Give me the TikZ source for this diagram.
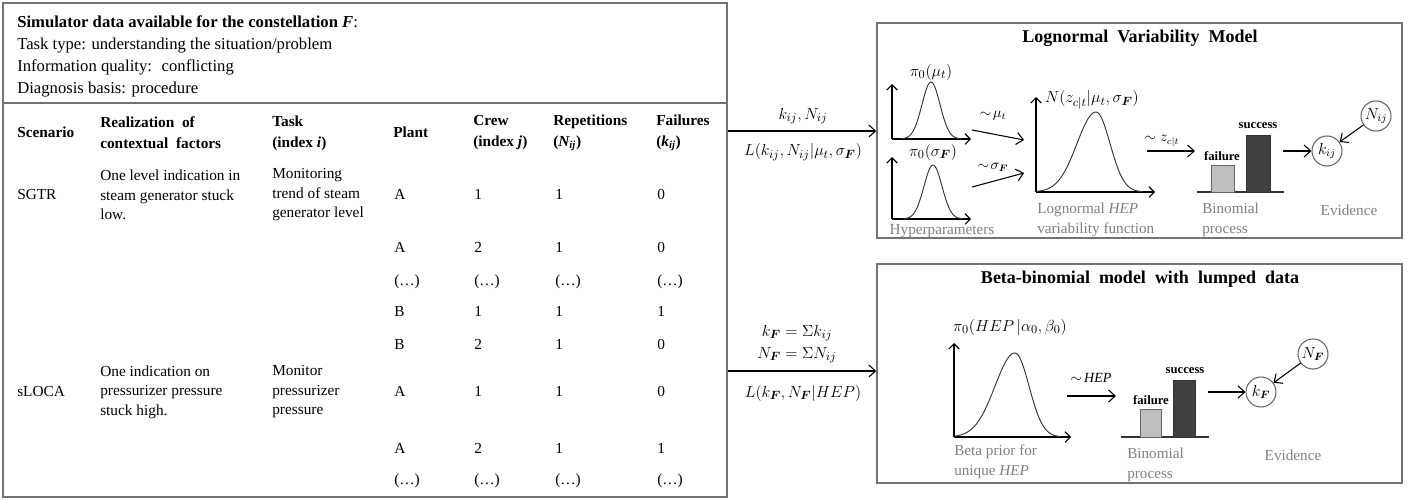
\documentclass[tikz,border=0pt]{standalone}
\usepackage{amsmath}
\usepackage{fontspec}
\setmainfont{Liberation Serif}
\usetikzlibrary{arrows.meta,fit}
\newcommand\ellp{(…)}
\begin{document}
\begin{tikzpicture}[x=0.75pt,y=-0.75pt,
  frame/.style={draw=black!55, line width=1.4pt, inner sep=0pt},
  rframe/.style={draw=black!55, line width=1.1pt, inner sep=0pt},
  arr/.style={-{Straight Barb[length=5pt,width=9pt]}, line width=0.8pt},
  ax/.style={-{Straight Barb[length=4pt,width=8pt]}, line width=0.8pt},
  curve/.style={line width=0.7pt, black!80},
  hd/.style={font=\fontsize{12.5}{16.5}\selectfont, anchor=base west, inner sep=0pt},
  th/.style={font=\fontsize{11.5}{15.75}\selectfont\bfseries, anchor=west, inner sep=0pt, align=left},
  tb/.style={font=\fontsize{11.5}{14.6}\selectfont, anchor=west, inner sep=0pt, align=left},
  td/.style={font=\fontsize{11.5}{14.6}\selectfont, anchor=base west, inner sep=0pt},
  ml/.style={font=\fontsize{13}{16}\selectfont, inner sep=0pt},
  ttl/.style={font=\fontsize{13.5}{16}\selectfont\bfseries, inner sep=0pt},
  gl/.style={font=\fontsize{11.4}{15}\selectfont, text=black!50, inner sep=0pt, align=left},
  lab/.style={font=\fontsize{12.5}{14}\selectfont, inner sep=0pt},
  slab/.style={font=\fontsize{10.5}{12}\selectfont, inner sep=0pt},
  bl/.style={font=\fontsize{9.5}{10}\selectfont\bfseries, inner sep=0pt},
  ev/.style={circle, draw=black!60, line width=0.8pt, minimum size=22.5pt, inner sep=0pt, font=\fontsize{12}{13}\selectfont},
  failbar/.style={draw=black!60, fill=black!25, line width=0.6pt},
  succbar/.style={draw=black!80, fill=black!75, line width=0.6pt},
  baseln/.style={line width=1pt, black!80}
]
\useasboundingbox (0,0) rectangle (1418,500);

% ---------------- left table ----------------
\node[frame, fit={(3,3) (727,497)}] (tab) {};
\draw[black!55, line width=1.4pt] (tab.west |- 0,103) -- (tab.east |- 0,103);

\node[hd] (h1) at (17,27) {\textbf{Simulator data available for the constellation \textit{F}}:};
\node[hd] (h2) at (17,49) {Task type: understanding the situation/problem};
\node[hd] (h3) at (17,71) {Information quality: \ conflicting};
\node[hd] (h4) at (17,93) {Diagnosis basis: procedure};

\node[th, anchor=base west] (c1) at (17,137) {Scenario};
\node[th] (c2) at (100,133) {Realization \ of\\contextual \ factors};
\node[th] (c3) at (272,133) {Task\\(index \textit{i})};
\node[th, anchor=base west] (c4) at (393,137) {Plant};
\node[th] (c5) at (473,133) {Crew\\(index \textit{j})};
\node[th] (c6) at (553,133) {Repetitions\\(\textit{N\textsubscript{ij}})};
\node[th] (c7) at (656,133) {Failures\\(\textit{k\textsubscript{ij}})};

\node[td] (s1) at (17,199) {SGTR};
\node[tb] (r1) at (100,195) {One level indication in\\steam generator stuck\\low.};
\node[tb] (t1) at (272,195) {Monitoring\\trend of steam\\generator level};
\node[td] (s2) at (17,396) {sLOCA};
\node[tb] (r2) at (100,392) {One indication on\\pressurizer pressure\\stuck high.};
\node[tb] (t2) at (272,392) {Monitor\\pressurizer\\pressure};

\foreach \yy/\pp/\cc/\rr/\ff [count=\i] in
  {199/A/1/1/0, 252/A/2/1/0, 285/\ellp/\ellp/\ellp/\ellp, 316/B/1/1/1,
   349/B/2/1/0, 396/A/1/1/0, 453/A/2/1/1, 484/\ellp/\ellp/\ellp/\ellp}{
  \node[td] (pl\i) at (394,\yy) {\pp};
  \node[td] (cr\i) at (474,\yy) {\cc};
  \node[td] (re\i) at (555,\yy) {\rr};
  \node[td] (fa\i) at (657,\yy) {\ff};
}

% ---------------- right boxes ----------------
\node[rframe, fit={(877,23) (1402,238)}] (lvm) {};
\node[rframe, fit={(877,264) (1402,483)}] (bbm) {};
\node[ttl] (lvmt) at (1140,38) {Lognormal \ Variability \ Model};
\node[ttl] (bbmt) at (1140,279) {Beta-binomial \ model \ with \ lumped \ data};

% connectors from table
\draw[arr] (tab.east |- 0,131) -- (lvm.west |- 0,131);
\node[ml] (a1u) at (803,116) {$k_{ij},N_{ij}$};
\node[ml] (a1d) at (803,152) {$L(k_{ij},N_{ij}|\mu_t,\sigma_{\boldsymbol{F}})$};
\draw[arr] (tab.east |- 0,371) -- (bbm.west |- 0,371);
\node[ml] (a2u) at (797,333) {$k_{\boldsymbol{F}}=\Sigma k_{ij}$};
\node[ml] (a2m) at (797,355) {$N_{\boldsymbol{F}}=\Sigma N_{ij}$};
\node[ml] (a2d) at (803,393) {$L(k_{\boldsymbol{F}},N_{\boldsymbol{F}}|HEP)$};

% ---- top box: hyperparameters ----
\coordinate (o1) at (892,139);
\draw[ax] (o1) -- (892,84);
\draw[ax] (o1) -- (971,139);
\draw[curve] plot[domain=901:961, samples=60, smooth] (\x, {139-57*exp(-0.5*(\x-931)*(\x-931)/81)});
\node[lab] (pmu) at (931,72) {$\pi_0(\mu_t)$};

\coordinate (o2) at (892,219);
\draw[ax] (o2) -- (892,157);
\draw[ax] (o2) -- (971,219);
\draw[curve] plot[domain=903:963, samples=60, smooth] (\x, {219-54*exp(-0.5*(\x-933)*(\x-933)/81)});
\node[lab] (psig) at (933,152) {$\pi_0(\sigma_{\boldsymbol{F}})$};
\node[gl] (hyp) at (942,231) {Hyperparameters};

\coordinate (m1s) at (972,130);
\coordinate (m1e) at (1024,140);
\draw[arr] (m1s) -- (m1e);
\node[slab] (tmu) at (993,116) {$\sim\!\mu_t$};
\coordinate (m2s) at (972,187);
\coordinate (m2e) at (1024,173);
\draw[arr] (m2s) -- (m2e);
\node[slab] (tsig) at (993,167) {$\sim\!\sigma_{\boldsymbol{F}}$};

% ---- top box: lognormal variability ----
\coordinate (o3) at (1036,192);
\draw[ax] (o3) -- (1036,97);
\draw[ax] (o3) -- (1155,192);
\draw[curve] plot[domain=1037:1096, samples=60, smooth] (\x, {192-80*exp(-0.5*(\x-1096)*(\x-1096)/361)})
  -- plot[domain=1096:1143, samples=50, smooth] (\x, {192-80*exp(-0.5*(\x-1096)*(\x-1096)/196)});
\node[lab] (nlab) at (1092,100) {$N(z_{c|t}|\mu_t,\sigma_{\boldsymbol{F}})$};
\node[gl, anchor=west] (lhep) at (1037,220) {Lognormal \textit{HEP}\\variability function};

\coordinate (zs) at (1147,151);
\coordinate (ze) at (1195,151);
\draw[arr] (zs) -- (ze);
\node[slab] (zl) at (1162,141) {$\sim z_{c|t}$};

% bars
\draw[baseln] (1197,192) -- (1284,192);
\draw[failbar] (1211,165) rectangle (1234,192);
\draw[succbar] (1246,135) rectangle (1270,192);
\node[bl] (fl1) at (1222,156) {failure};
\node[bl] (sl1) at (1258,126) {success};
\node[gl, anchor=west] (bin1) at (1202,220) {Binomial\\process};

\coordinate (b1e) at (1283,151);
\node[ev] (kij) at (1327,151) {$k_{ij}$};
\node[ev] (Nij) at (1376,116) {$N_{ij}$};
\draw[arr] (b1e) -- (kij);
\draw[arr] (Nij) -- (kij);
\node[gl] (ev1) at (1349,210) {Evidence};

% ---- bottom box ----
\coordinate (o4) at (954,437);
\draw[ax] (o4) -- (954,343);
\draw[ax] (o4) -- (1071,437);
\draw[curve] plot[domain=955:1015, samples=60, smooth] (\x, {437-84*exp(-0.5*(\x-1015)*(\x-1015)/400)})
  -- plot[domain=1015:1060, samples=50, smooth] (\x, {437-84*exp(-0.5*(\x-1015)*(\x-1015)/196)});
\node[lab] (phep) at (1010,327) {$\pi_0(HEP\,|\alpha_0,\beta_0)$};
\node[gl, anchor=west] (bprior) at (954,462) {Beta prior for\\unique \textit{HEP}};

\coordinate (hs) at (1067,396);
\coordinate (he) at (1116,396);
\draw[arr] (hs) -- (he);
\node[slab] (hl) at (1091,378) {$\sim$\,\textit{HEP}};

\draw[baseln] (1121,437) -- (1209,437);
\draw[failbar] (1140,409) rectangle (1161,437);
\draw[succbar] (1173,380) rectangle (1195,437);
\node[bl] (fl2) at (1151,400) {failure};
\node[bl] (sl2) at (1185,371) {success};
\node[gl, anchor=west] (bin2) at (1127,465) {Binomial\\process};

\coordinate (b2e) at (1208,392);
\node[ev] (kF) at (1261,392) {$k_{\boldsymbol{F}}$};
\node[ev] (NF) at (1313,354) {$N_{\boldsymbol{F}}$};
\draw[arr] (b2e) -- (kF);
\draw[arr] (NF) -- (kF);
\node[gl] (ev2) at (1293,455) {Evidence};

\end{tikzpicture}
\end{document}
